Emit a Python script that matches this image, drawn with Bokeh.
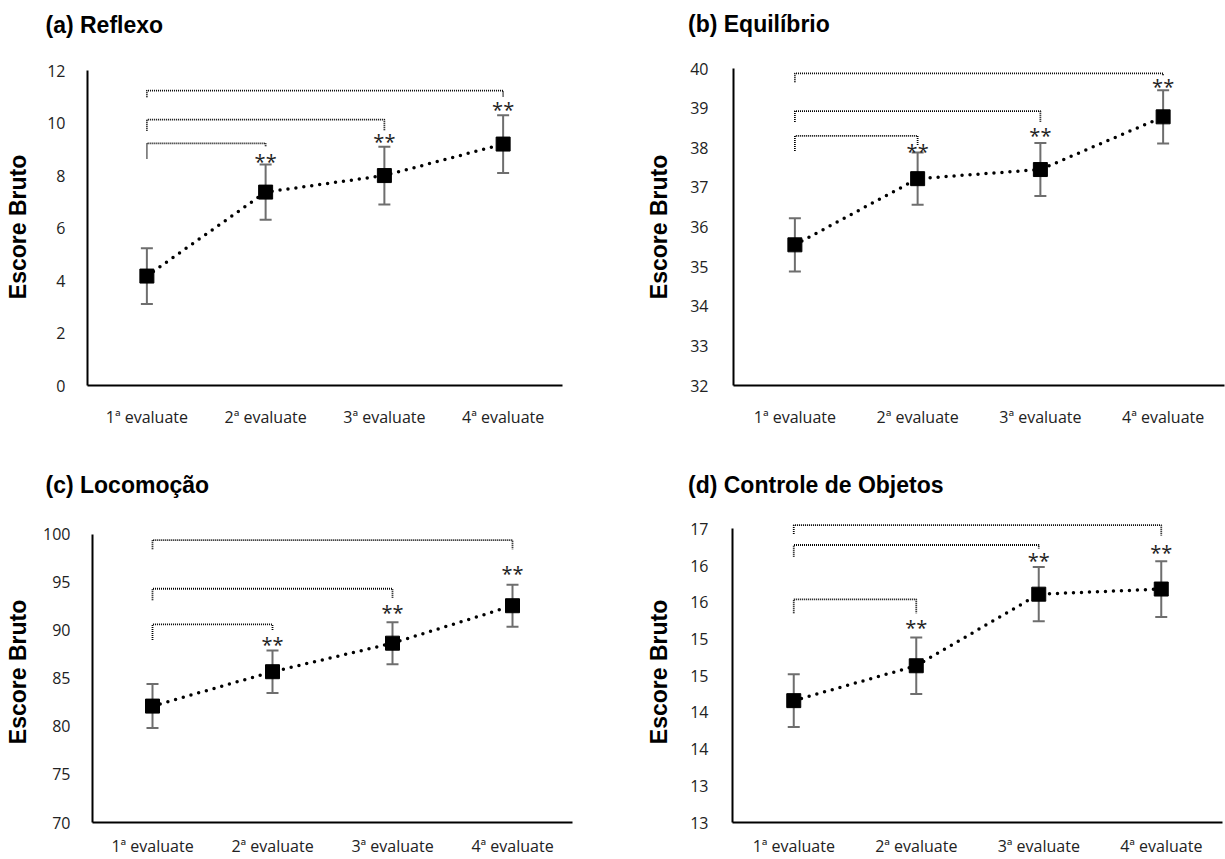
from bokeh.plotting import figure
from bokeh.models import FactorRange, Range1d, FixedTicker, Whisker, ColumnDataSource, TeeHead
from bokeh.layouts import column, row
from bokeh.core.properties import value
from bokeh.embed import file_html
from bokeh.resources import INLINE

# ---------------- data ----------------
categories = ["1ª evaluate", "2ª evaluate", "3ª evaluate", "4ª evaluate"]
y_label = "Escore Bruto"

titles = ["(a) Reflexo", "(b) Equilíbrio", "(c) Locomoção", "(d) Controle de Objetos"]

a_mean = [4.17, 7.37, 8.0, 9.2]
a_err = [1.06, 1.05, 1.1, 1.1]
a_star = [8.70, 9.46, 10.67]
a_br_to = [1, 2, 3]
a_br_bar = [9.23, 10.13, 11.24]
a_br_left = [8.65, 9.71, 10.98]
a_br_right = [9.08, 9.71, 10.98]
a_ticks = [0, 2, 4, 6, 8, 10, 12]
a_tick_labels = ["0", "2", "4", "6", "8", "10", "12"]

b_mean = [35.55, 37.22, 37.45, 38.78]
b_err = [0.67, 0.66, 0.67, 0.67]
b_star = [38.0, 38.42, 39.65]
b_br_to = [1, 2, 3]
b_br_bar = [38.3, 38.925, 39.875]
b_br_left = [37.92, 38.65, 39.65]
b_br_right = [38.07, 38.65, 39.82]
b_ticks = [32, 33, 34, 35, 36, 37, 38, 39, 40]
b_tick_labels = ["32", "33", "34", "35", "36", "37", "38", "39", "40"]

c_mean = [82.12, 85.7, 88.67, 92.57]
c_err = [2.29, 2.22, 2.19, 2.19]
c_star = [89.0, 92.28, 96.31]
c_br_to = [1, 2, 3]
c_br_bar = [90.62, 94.34, 99.41]
c_br_left = [89.0, 93.14, 98.45]
c_br_right = [89.93, 93.38, 98.45]
c_ticks = [70, 75, 80, 85, 90, 95, 100]
c_tick_labels = ["70", "75", "80", "85", "90", "95", "100"]

d_mean = [14.16, 14.635, 15.61, 15.68]
d_err = [0.36, 0.385, 0.37, 0.38]
d_star = [15.21, 16.12, 16.23]
d_br_to = [1, 2, 3]
d_br_bar = [15.54, 16.28, 16.55]
d_br_left = [15.35, 16.12, 16.43]
d_br_right = [15.35, 16.23, 16.41]
d_ticks = [12.5, 13, 13.5, 14, 14.5, 15, 15.5, 16, 16.5]
d_tick_labels = ["13", "13", "14", "14", "15", "15", "16", "16", "17"]

TICK_FONT = "Open Sans"
BOLD_FONT = "Liberation Sans"


def title_fig(text, width, height, tx, ty):
    f = figure(width=width, height=height, output_backend="svg", toolbar_location=None,
               x_range=Range1d(0, width), y_range=Range1d(height, 0),
               x_axis_type=None, y_axis_type=None, min_border=0)
    f.outline_line_color = None
    f.grid.visible = False
    f.text(x=[tx], y=[ty], text=[text], text_align="left", text_baseline="middle",
           text_font=value(BOLD_FONT), text_font_size="23px", text_font_style="bold",
           text_color="black")
    return f


def make_panel(mean, err, star_y, br_to, br_bar, br_left, br_right,
               ticks, tick_labels, y_end, width, height, borders,
               ylab_standoff, x_standoff, y_standoff):
    p = figure(width=width, height=height, output_backend="svg", toolbar_location=None,
               x_range=FactorRange(factors=categories),
               y_range=Range1d(ticks[0], y_end),
               min_border_left=borders[0], min_border_right=borders[1],
               min_border_top=borders[2], min_border_bottom=borders[3])
    p.outline_line_color = None
    p.xgrid.visible = False
    p.ygrid.visible = False

    for ax in (p.xaxis[0], p.yaxis[0]):
        ax.axis_line_color = "black"
        ax.axis_line_width = 2
        ax.major_tick_line_color = None
        ax.minor_tick_line_color = None
        ax.major_label_text_font = TICK_FONT
        ax.major_label_text_font_size = "16px"
        ax.major_label_text_color = "#222222"
    p.xaxis[0].major_label_standoff = x_standoff
    p.yaxis[0].major_label_standoff = y_standoff
    p.yaxis[0].ticker = FixedTicker(ticks=ticks)
    p.yaxis[0].major_label_overrides = {t: l for t, l in zip(ticks, tick_labels)}
    p.yaxis[0].bounds = (ticks[0], ticks[-1])
    p.yaxis[0].axis_label = y_label
    p.yaxis[0].axis_label_text_font = BOLD_FONT
    p.yaxis[0].axis_label_text_font_size = "23px"
    p.yaxis[0].axis_label_text_font_style = "bold"
    p.yaxis[0].axis_label_text_color = "black"
    p.yaxis[0].axis_label_standoff = ylab_standoff

    src = ColumnDataSource(dict(
        x=categories, y=mean,
        upper=[m + e for m, e in zip(mean, err)],
        lower=[m - e for m, e in zip(mean, err)]))

    # significance brackets
    xs, ys = [], []
    for t, b, l, r in zip(br_to, br_bar, br_left, br_right):
        xs.append([categories[0], categories[0], categories[t], categories[t]])
        ys.append([l, b, b, r])
    p.multi_line(xs=xs, ys=ys, line_color="black", line_width=1.8, line_dash="1 1")

    w = Whisker(base="x", upper="upper", lower="lower", source=src, dimension="height",
                line_color="#6e6e6e", line_width=2,
                upper_head=TeeHead(size=12, line_color="#6e6e6e", line_width=2),
                lower_head=TeeHead(size=12, line_color="#6e6e6e", line_width=2),
                level="underlay")
    p.add_layout(w)

    p.line(x="x", y="y", source=src, line_color="black", line_width=3.5,
           line_dash="0 8", line_cap="round")
    p.scatter(x="x", y="y", source=src, marker="square", size=14,
              fill_color="black", line_color="black")

    p.text(x=categories[1:], y=star_y, text=["**"] * len(star_y),
           text_align="center", text_baseline="middle", y_offset=4,
           text_font=value(TICK_FONT), text_font_size="20px", text_color="#222222")
    return p


ta = title_fig(titles[0], 600, 42, 45, 24)
tb = title_fig(titles[1], 625, 42, 87.5, 23)
tc = title_fig(titles[2], 600, 72, 45, 54)
td = title_fig(titles[3], 625, 72, 87.5, 54)

pa = make_panel(a_mean, a_err, a_star, a_br_to, a_br_bar, a_br_left, a_br_right,
                a_ticks, a_tick_labels, 12.08, 600, 388, (87, 38, 26, 45), 13, 14, 16)
pb = make_panel(b_mean, b_err, b_star, b_br_to, b_br_bar, b_br_left, b_br_right,
                b_ticks, b_tick_labels, 40, 625, 388, (133, 1, 26, 45), 15, 14, 19)
pc = make_panel(c_mean, c_err, c_star, c_br_to, c_br_bar, c_br_left, c_br_right,
                c_ticks, c_tick_labels, 101.34, 600, 357, (92, 28, 19, 36), 9, 6, 16)
pd = make_panel(d_mean, d_err, d_star, d_br_to, d_br_bar, d_br_left, d_br_right,
                d_ticks, d_tick_labels, 16.6, 625, 357, (132, 3, 19, 36), 15, 6, 18)

layout = column(row(ta, tb), row(pa, pb), row(tc, td), row(pc, pd))
open("out.html", "w").write(file_html(layout, INLINE))
